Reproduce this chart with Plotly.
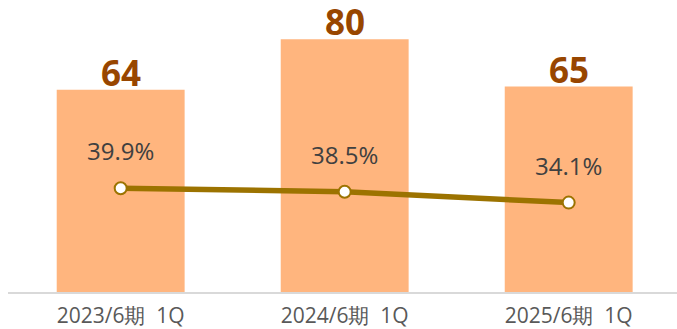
import plotly.graph_objects as go

categories = ["2023/6期  1Q", "2024/6期  1Q", "2025/6期  1Q"]
bar_values = [64, 80, 65]
pct_values = [39.9, 38.5, 34.1]
pct_labels = ["39.9%", "38.5%", "34.1%"]

BAR_COLOR = "#FFB57E"
LINE_COLOR = "#9C7300"
VAL_COLOR = "#984600"
FONT = "Open Sans"

xs = list(range(len(categories)))

fig = go.Figure()
fig.add_trace(go.Bar(
    x=xs, y=bar_values, width=0.571,
    marker=dict(color=BAR_COLOR, line=dict(width=0)),
    yaxis="y", hoverinfo="skip",
))
fig.add_trace(go.Scatter(
    x=xs, y=pct_values, yaxis="y2", mode="lines+markers",
    line=dict(color=LINE_COLOR, width=5.5),
    marker=dict(size=12, color="white", line=dict(color=LINE_COLOR, width=2)),
    hoverinfo="skip",
))

annotations = []
for x, v in zip(xs, bar_values):
    annotations.append(dict(
        x=x, y=v, xref="x", yref="y", text=f"<b>{v}</b>", showarrow=False,
        yanchor="bottom", yshift=-8,
        font=dict(family=FONT, size=35, color=VAL_COLOR),
    ))
for x, v, t in zip(xs, pct_values, pct_labels):
    annotations.append(dict(
        x=x, y=v, xref="x", yref="y2", text=t, showarrow=False,
        yanchor="bottom", yshift=19,
        font=dict(family=FONT, size=24, color="#404040"),
    ))

fig.update_layout(
    width=677, height=329,
    margin=dict(l=8, r=0, t=0, b=37, autoexpand=False),
    paper_bgcolor="white", plot_bgcolor="white",
    showlegend=False,
    font=dict(family=FONT),
    xaxis=dict(
        tickmode="array", tickvals=xs, ticktext=categories,
        range=[-0.503, 2.4835], automargin=False,
        showgrid=False, zeroline=False,
        showline=True, linecolor="#D9D9D9", linewidth=2,
        ticks="", ticklabelstandoff=4,
        tickfont=dict(family=FONT, size=21, color="#595959"),
    ),
    yaxis=dict(range=[0, 92.4], visible=False, showgrid=False, zeroline=False),
    yaxis2=dict(range=[-2.08, 116.1], overlaying="y", visible=False,
                showgrid=False, zeroline=False),
    annotations=annotations,
)

fig.write_html("out.html")
